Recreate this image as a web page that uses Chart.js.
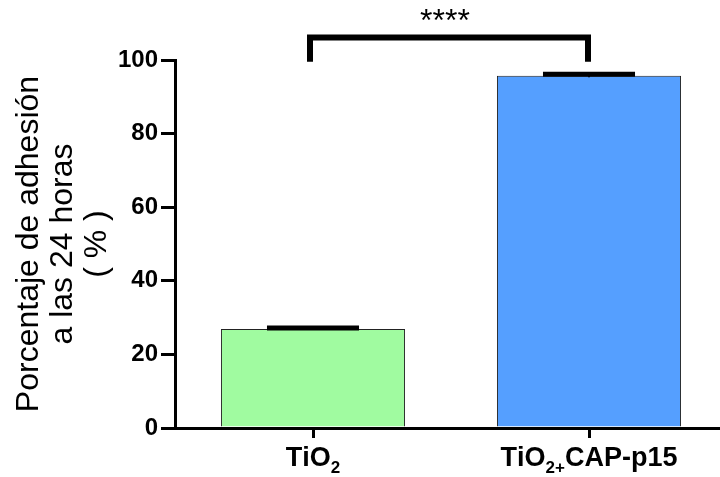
<!DOCTYPE html>
<html lang="es">
<head>
    <meta charset="UTF-8">
    <title>Adhesión 24 h</title>
    <script src="https://cdn.jsdelivr.net/npm/chart.js"></script>
    <style>
        html, body {
            margin: 0;
            padding: 0;
            background: #fff;
            overflow: hidden;
        }
        #adhesionChart {
            display: block;
        }
    </style>
</head>
<body>
    <canvas id="adhesionChart" width="728" height="477"></canvas>

    <script>
        // data
        const groups = ['TiO₂', 'TiO₂₊CAP-p15'];
        const adhesion = [26.9, 95.7];
        const errors = [0.3, 0.4];
        const barColors = ['#A0FBA0', '#559FFF'];
        const yTicks = [0, 20, 40, 60, 80, 100];
        const yTitle = ['Porcentaje de adhesión', 'a las 24 horas', '( % )'];
        // significance bracket between the two groups
        const sigLabel = '****';
        const sigTop = 106.1;
        const sigBottom = 99.5;
        const sigText = 112;

        const FONT = '"Liberation Sans", Arial, sans-serif';
        const SUBS = { '₂': '2', '₊': '+' };

        // small error caps on top of the bars
        const errorBars = {
            id: 'errorBars',
            afterDatasetsDraw(chart) {
                const ctx = chart.ctx;
                const y = chart.scales.y;
                chart.getDatasetMeta(0).data.forEach((bar, i) => {
                    const top = y.getPixelForValue(adhesion[i] + errors[i]);
                    const bot = y.getPixelForValue(adhesion[i] - errors[i]);
                    const half = bar.width / 4;
                    ctx.save();
                    ctx.strokeStyle = '#000';
                    ctx.lineWidth = 2;
                    ctx.beginPath();
                    ctx.moveTo(bar.x, bot);
                    ctx.lineTo(bar.x, top);
                    ctx.stroke();
                    ctx.lineWidth = 5;
                    ctx.beginPath();
                    ctx.moveTo(bar.x - half, top);
                    ctx.lineTo(bar.x + half, top);
                    ctx.stroke();
                    ctx.restore();
                });
            }
        };

        // category labels with real subscripts
        const subLabels = {
            id: 'subLabels',
            afterDraw(chart) {
                const ctx = chart.ctx;
                const x = chart.scales.x;
                const base = x.top + 38;
                ctx.save();
                ctx.fillStyle = '#000';
                ctx.textBaseline = 'alphabetic';
                ctx.textAlign = 'left';
                groups.forEach((label, i) => {
                    const parts = [...label].map(ch => SUBS[ch]
                        ? { t: SUBS[ch], font: 'bold 17px ' + FONT, dy: 7 }
                        : { t: ch, font: 'bold 27px ' + FONT, dy: 0 });
                    let w = 0;
                    parts.forEach(p => { ctx.font = p.font; w += ctx.measureText(p.t).width; });
                    let cx = x.getPixelForValue(i) - w / 2;
                    parts.forEach(p => {
                        ctx.font = p.font;
                        ctx.fillText(p.t, cx, base + p.dy);
                        cx += ctx.measureText(p.t).width;
                    });
                });
                ctx.restore();
            }
        };

        const bracket = {
            id: 'bracket',
            afterDraw(chart) {
                const ctx = chart.ctx;
                const x = chart.scales.x;
                const y = chart.scales.y;
                const x1 = x.getPixelForValue(0) - 3;
                const x2 = x.getPixelForValue(1) - 1;
                const yt = y.getPixelForValue(sigTop);
                const yb = y.getPixelForValue(sigBottom);
                ctx.save();
                ctx.strokeStyle = '#000';
                ctx.lineWidth = 6;
                ctx.lineJoin = 'miter';
                ctx.beginPath();
                ctx.moveTo(x1, yb);
                ctx.lineTo(x1, yt);
                ctx.lineTo(x2, yt);
                ctx.lineTo(x2, yb);
                ctx.stroke();
                ctx.fillStyle = '#000';
                ctx.font = '32px ' + FONT;
                ctx.textAlign = 'center';
                ctx.textBaseline = 'middle';
                ctx.fillText(sigLabel, (x1 + x2) / 2 - 4, y.getPixelForValue(sigText) + 6);
                ctx.restore();
            }
        };

        const ctx = document.getElementById('adhesionChart').getContext('2d');
        new Chart(ctx, {
            type: 'bar',
            data: {
                labels: groups,
                datasets: [{
                    data: adhesion,
                    backgroundColor: barColors,
                    borderColor: '#222',
                    borderWidth: 1,
                    categoryPercentage: 1,
                    barPercentage: 0.667
                }]
            },
            options: {
                responsive: false,
                animation: false,
                layout: {
                    padding: { top: 60, right: 1, left: 0, bottom: 0 }
                },
                plugins: {
                    legend: { display: false },
                    tooltip: { enabled: false }
                },
                scales: {
                    x: {
                        afterFit: (scale) => { scale.height = 49; },
                        border: { display: true, color: '#000', width: 3 },
                        grid: {
                            offset: false,
                            drawOnChartArea: false,
                            drawTicks: true,
                            tickLength: 10,
                            color: '#000',
                            lineWidth: 3
                        },
                        ticks: { display: false }
                    },
                    y: {
                        min: 0,
                        max: 100,
                        afterFit: (scale) => { scale.width = 175; },
                        afterBuildTicks: (scale) => { scale.ticks = yTicks.map(v => ({ value: v })); },
                        border: { display: true, color: '#000', width: 3 },
                        grid: {
                            drawOnChartArea: false,
                            drawTicks: true,
                            tickLength: 14,
                            color: '#000',
                            lineWidth: 3
                        },
                        ticks: {
                            color: '#000',
                            padding: 3,
                            font: { family: FONT, size: 24, weight: 'bold' }
                        },
                        title: {
                            display: true,
                            text: yTitle,
                            color: '#000',
                            padding: { top: 12, bottom: 0 },
                            font: { family: FONT, size: 32, lineHeight: '34px' }
                        }
                    }
                }
            },
            plugins: [errorBars, subLabels, bracket]
        });
    </script>
</body>
</html>
